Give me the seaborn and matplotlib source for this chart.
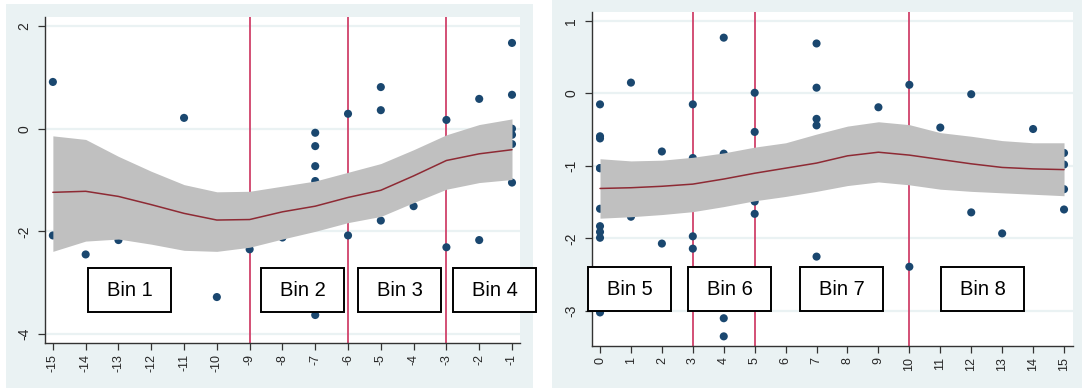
import numpy as np
import pandas as pd
import matplotlib
matplotlib.use("Agg")
import matplotlib.pyplot as plt
from matplotlib.patches import Rectangle
import seaborn as sns

# ---- data: pre-period (left panel) ----
pre_x = [-15, -15, -14, -13, -11, -10, -9, -8, -7, -7, -7, -7, -7, -6, -6,
         -5, -5, -5, -4, -3, -3, -2, -2, -1, -1, -1, -1, -1, -1]
pre_y = [0.91, -2.08, -2.45, -2.17, 0.21, -3.28, -2.35, -2.12, -0.08, -0.34,
         -0.73, -1.02, -3.63, 0.29, -2.08, 0.81, 0.36, -1.79, -1.51, 0.17,
         -2.31, 0.58, -2.17, 1.67, 0.66, 0.0, -0.12, -0.30, -1.05]
pre_grid = list(range(-15, 0))
pre_fit = [-1.24, -1.22, -1.32, -1.48, -1.65, -1.78, -1.77, -1.62, -1.51,
           -1.34, -1.20, -0.92, -0.62, -0.49, -0.41]
pre_hi = [-0.14, -0.21, -0.54, -0.83, -1.09, -1.23, -1.22, -1.12, -1.02,
          -0.85, -0.68, -0.41, -0.12, 0.08, 0.19]
pre_lo = [-2.39, -2.19, -2.15, -2.25, -2.37, -2.39, -2.31, -2.15, -2.00,
          -1.83, -1.71, -1.44, -1.18, -1.05, -0.99]
pre_cuts = [-9, -6, -3]
pre_bins = ["Bin 1", "Bin 2", "Bin 3", "Bin 4"]
pre_bin_x = [-12.65, -7.39, -4.42, -1.52]
pre_bin_y = -3.15
pre_xticks = list(range(-15, 0))
pre_yticks = [-4, -2, 0, 2]

# ---- data: post-period (right panel) ----
post_x = [0, 0, 0, 0, 0, 0, 0, 0, 0, 0, 1, 1, 2, 2, 3, 3, 3, 3, 4, 4, 4, 4,
          5, 5, 5, 5, 7, 7, 7, 7, 7, 9, 10, 10, 11, 12, 12, 13, 14, 15, 15,
          15, 15]
post_y = [-0.15, -0.59, -0.62, -1.03, -1.59, -1.83, -1.91, -1.99, -3.02,
          -1.03, 0.15, -1.70, -0.80, -2.07, -0.15, -0.89, -1.97, -2.14,
          0.77, -0.83, -3.10, -3.35, 0.01, -0.53, -1.49, -1.66, 0.69, 0.08,
          -0.35, -0.44, -2.25, -0.19, 0.12, -2.39, -0.47, -0.01, -1.64,
          -1.93, -0.49, -0.82, -0.98, -1.32, -1.60]
post_grid = list(range(0, 16))
post_fit = [-1.31, -1.30, -1.28, -1.25, -1.18, -1.10, -1.03, -0.96, -0.86,
            -0.81, -0.85, -0.91, -0.97, -1.02, -1.04, -1.05]
post_hi = [-0.90, -0.93, -0.92, -0.88, -0.82, -0.74, -0.68, -0.56, -0.45,
           -0.39, -0.43, -0.54, -0.59, -0.65, -0.68, -0.68]
post_lo = [-1.72, -1.70, -1.67, -1.63, -1.56, -1.48, -1.42, -1.35, -1.27,
           -1.22, -1.26, -1.32, -1.35, -1.37, -1.39, -1.41]
post_cuts = [3, 5, 10]
post_bins = ["Bin 5", "Bin 6", "Bin 7", "Bin 8"]
post_bin_x = [0.95, 4.19, 7.82, 12.37]
post_bin_y = -2.70
post_xticks = list(range(0, 16))
post_yticks = [-3, -2, -1, 0, 1]

# ---- style ----
sns.set_style("ticks")
plt.rcParams["font.family"] = ["Liberation Sans Narrow", "Liberation Sans", "DejaVu Sans"]
plt.rcParams["axes.unicode_minus"] = False

BG = "#EAF2F3"
NAVY = "#1A476F"
MAROON = "#8E2A34"
CUT = "#D0416A"
BAND = "#C0C0C0"

W, H = 1082, 388
fig = plt.figure(figsize=(W / 100, H / 100), dpi=100, facecolor="white")


def px_rect(x0, y0, x1, y1):
    """Figure-fraction rectangle from pixel edges (top-left origin)."""
    return [x0 / W, 1 - y1 / H, (x1 - x0) / W, (y1 - y0) / H]


# panel backgrounds, kept behind the axes
for (x0, y0, x1, y1) in [(6, 4, 533, 388), (552, 0, 1082, 388)]:
    l, b, w, h = px_rect(x0, y0, x1, y1)
    fig.patches.append(Rectangle((l, b), w, h, transform=fig.transFigure,
                                 facecolor=BG, edgecolor="none", zorder=-10))


def draw_panel(ax, sx, sy, gx, fit, lo, hi, cuts, bins, bin_x, bin_y,
               xticks, yticks, xlim, ylim):
    ax.set_facecolor("white")
    ax.set_xlim(*xlim)
    ax.set_ylim(*ylim)
    for yv in yticks:
        ax.axhline(yv, color=BG, lw=1.6, zorder=0.5)
    for c in cuts:
        ax.axvline(c, color=CUT, lw=1.3, zorder=1)
    pts = pd.DataFrame({"x": sx, "y": sy})
    sns.scatterplot(data=pts, x="x", y="y", ax=ax, color=NAVY, s=34,
                    edgecolor="none", zorder=2)
    ax.fill_between(gx, lo, hi, color=BAND, lw=0, zorder=3)
    fitdf = pd.DataFrame({"x": gx, "y": fit})
    sns.lineplot(data=fitdf, x="x", y="y", ax=ax, color=MAROON, lw=1.1,
                 zorder=4)
    ax.set_xlim(*xlim)
    ax.set_ylim(*ylim)
    ax.set_xlabel("")
    ax.set_ylabel("")
    ax.set_xticks(xticks)
    ax.set_yticks(yticks)
    ax.tick_params(axis="x", labelrotation=90, labelsize=9, length=5,
                   width=0.9, color="#333333", pad=3)
    ax.tick_params(axis="y", labelrotation=90, labelsize=10, length=5,
                   width=0.9, color="#333333", pad=5)
    for lab in ax.get_yticklabels():
        lab.set_verticalalignment("center")
    for side in ["top", "right"]:
        ax.spines[side].set_visible(False)
    for side in ["left", "bottom"]:
        ax.spines[side].set_color("#333333")
        ax.spines[side].set_linewidth(1.0)

    # labelled bin boxes, fixed size in pixels
    inv = ax.transData.inverted()
    bw, bh = 83, 44
    for name, bx in zip(bins, bin_x):
        cx, cy = ax.transData.transform((bx, bin_y))
        (x0, y0) = inv.transform((cx - bw / 2, cy - bh / 2))
        (x1, y1) = inv.transform((cx + bw / 2, cy + bh / 2))
        ax.add_patch(Rectangle((x0, y0), x1 - x0, y1 - y0, facecolor="white",
                               edgecolor="black", lw=1.4, zorder=6,
                               clip_on=False))
        ax.text(bx, bin_y, name, ha="center", va="center", fontsize=14.5,
                color="black", zorder=7)


ax1 = fig.add_axes(px_rect(45, 17, 520, 343))
draw_panel(ax1, pre_x, pre_y, pre_grid, pre_fit, pre_lo, pre_hi, pre_cuts,
           pre_bins, pre_bin_x, pre_bin_y, pre_xticks, pre_yticks,
           (-15.24, -0.756), (-4.175, 2.175))

ax2 = fig.add_axes(px_rect(592, 12, 1073, 346))
draw_panel(ax2, post_x, post_y, post_grid, post_fit, post_lo, post_hi,
           post_cuts, post_bins, post_bin_x, post_bin_y, post_xticks,
           post_yticks, (-0.259, 15.29), (-3.483, 1.124))

fig.savefig("out.png", dpi=100, facecolor="white")
